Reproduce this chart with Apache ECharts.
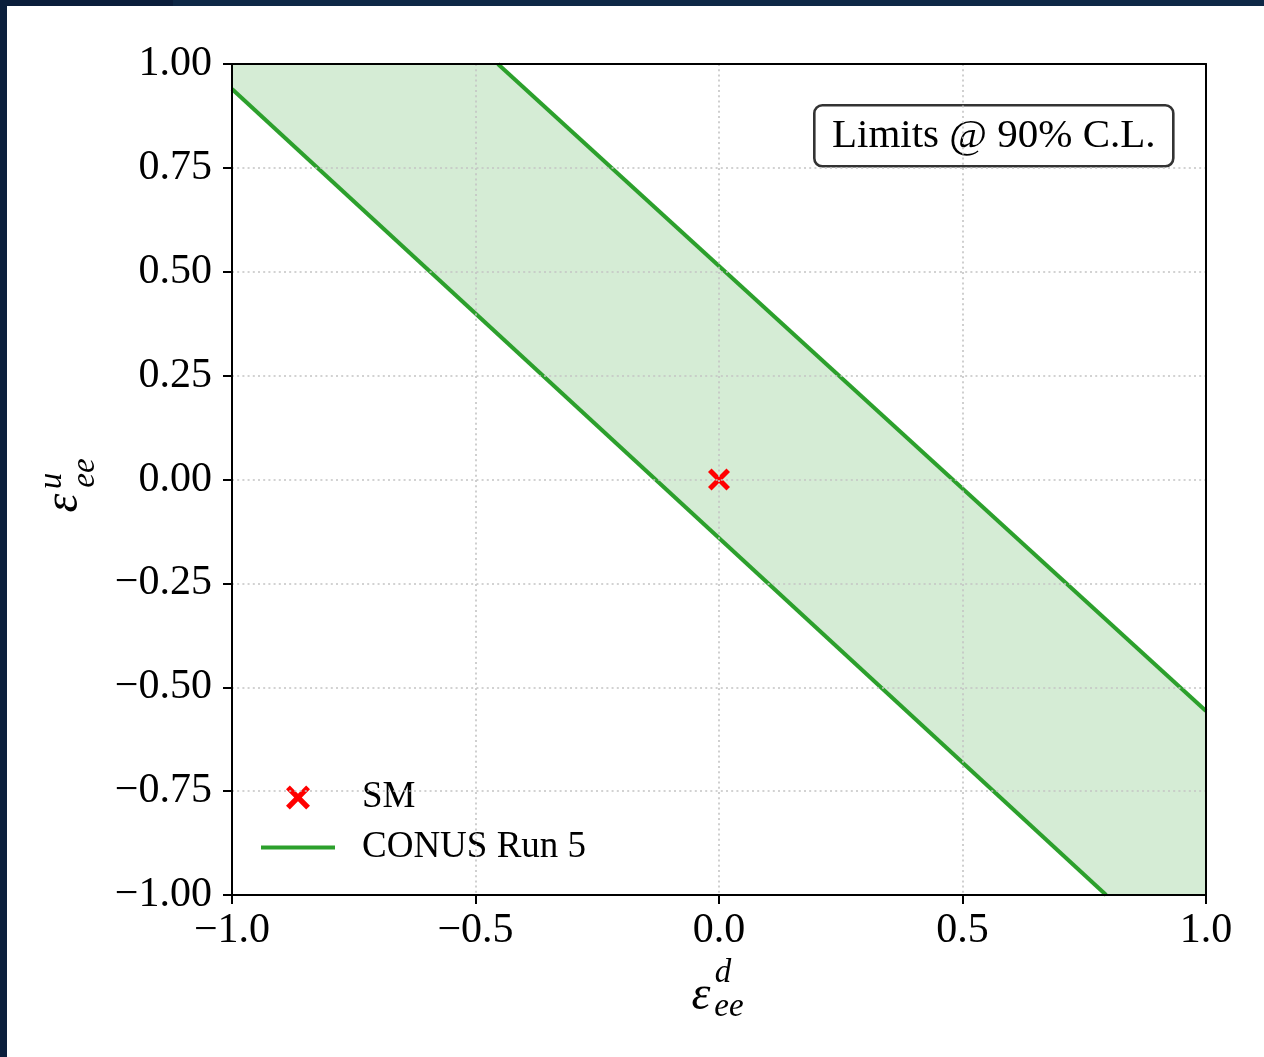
<!DOCTYPE html>
<html>
<head>
<meta charset="utf-8">
<script src="https://cdn.jsdelivr.net/npm/echarts@6/dist/echarts.min.js"></script>
<style>
  html, body { margin: 0; padding: 0; width: 1264px; height: 1057px; overflow: hidden; background: #0e2846; }
  #topdark { position: absolute; left: 0; top: 0; width: 173px; height: 6px; background: #0b1e3b; }
  #leftdark { position: absolute; left: 0; top: 0; width: 7px; height: 1057px; background: #0b1f3c; }
  #chart { position: absolute; left: 7px; top: 6px; width: 1257px; height: 1051px; background: #ffffff; }
</style>
</head>
<body>
<div id="topdark"></div>
<div id="leftdark"></div>
<div id="chart"></div>
<script>
// ---- data ----
const xTickLabels = ['\u22121.0', '\u22120.5', '0.0', '0.5', '1.0'];
const yTickLabels = ['\u22121.00', '\u22120.75', '\u22120.50', '\u22120.25', '0.00', '0.25', '0.50', '0.75', '1.00'];
const lowerBound = [[-1.0, 0.94], [0.795, -1.0]];
const upperBound = [[-0.454, 1.0], [1.0, -0.557]];
const smPoint = [[0, 0]];
const axisMin = -1, axisMax = 1;

// band polygon: upper boundary, corner, lower boundary reversed, corner
const bandPolygon = [].concat(
  upperBound,
  [[axisMax, axisMin]],
  lowerBound.slice().reverse(),
  [[axisMin, axisMax]]
);

const FONT = "'Liberation Serif', 'DejaVu Serif', serif";
const GREEN = '#2ca02c';
const xMarker = 'path://M1.6,0 L5,3.4 L8.4,0 L10,1.6 L6.6,5 L10,8.4 L8.4,10 L5,6.6 L1.6,10 L0,8.4 L3.4,5 L0,1.6 Z';
const lineIcon = 'path://M0,0 L74,0 L74,4 L0,4 Z';

const chart = echarts.init(document.getElementById('chart'), null, { renderer: 'canvas' });

const gridLeft = 225, gridTop = 58, gridRight = 58, gridBottom = 162;

const axisCommon = {
  type: 'value', min: axisMin, max: axisMax, z: 10,
  axisLine: { show: true, onZero: false, lineStyle: { color: '#000', width: 2 } },
  axisTick: { show: true, inside: false, length: 9, lineStyle: { color: '#000', width: 2 } },
  splitLine: { show: true, lineStyle: { color: '#c4c4c4', width: 1.6, type: [2, 3.2] } }
};

const mathText = (x, y, t, size) => ({
  type: 'text', x: x, y: y,
  style: { text: t, fontFamily: FONT, fontStyle: 'italic', fontSize: size, fill: '#000',
    textAlign: 'center', textVerticalAlign: 'middle' }
});

const option = {
  backgroundColor: '#ffffff',
  animation: false,
  grid: { left: gridLeft, top: gridTop, right: gridRight, bottom: gridBottom, containLabel: false },
  xAxis: [
    Object.assign({}, axisCommon, {
      position: 'bottom', interval: 0.5,
      axisLabel: { margin: 15, color: '#000', fontFamily: FONT, fontSize: 42,
        formatter: (v, i) => xTickLabels[i] }
    }),
    Object.assign({}, axisCommon, {
      position: 'top', interval: 0.5,
      axisTick: { show: false }, axisLabel: { show: false }, splitLine: { show: false }
    })
  ],
  yAxis: [
    Object.assign({}, axisCommon, {
      position: 'left', interval: 0.25,
      axisLabel: { margin: 20, color: '#000', fontFamily: FONT, fontSize: 42,
        formatter: (v, i) => yTickLabels[i] }
    }),
    Object.assign({}, axisCommon, {
      position: 'right', interval: 0.25,
      axisTick: { show: false }, axisLabel: { show: false }, splitLine: { show: false }
    })
  ],
  legend: {
    orient: 'vertical', left: 249, top: 768,
    itemWidth: 74, itemHeight: 24, itemGap: 13,
    symbolKeepAspect: true,
    textStyle: { fontFamily: FONT, fontSize: 37, color: '#000', padding: [0, 0, 0, 22], lineHeight: 36 },
    data: [
      { name: 'SM', icon: xMarker, itemStyle: { color: '#ff0000', opacity: 1 } },
      { name: 'CONUS Run 5', icon: lineIcon, itemStyle: { color: GREEN } }
    ]
  },
  series: [
    {
      type: 'custom', name: 'band', z: 1, clip: true, silent: true,
      data: [0],
      renderItem: (params, api) => {
        const pts = bandPolygon.map(p => api.coord(p));
        return { type: 'polygon', shape: { points: pts },
          style: { fill: 'rgba(44,160,44,0.2)', stroke: null } };
      }
    },
    {
      type: 'line', name: 'CONUS Run 5', data: lowerBound, symbol: 'none', showSymbol: false, z: 3,
      lineStyle: { color: GREEN, width: 4 }, itemStyle: { color: GREEN }
    },
    {
      type: 'line', name: 'CONUS Run 5', data: upperBound, symbol: 'none', showSymbol: false, z: 3,
      lineStyle: { color: GREEN, width: 4 }, itemStyle: { color: GREEN }
    },
    {
      type: 'scatter', name: 'SM', data: smPoint, symbol: xMarker, symbolSize: 22, z: 5,
      itemStyle: { color: '#ff0000', opacity: 1 }
    }
  ],
  graphic: [
    {
      type: 'group', left: 806, top: 98,
      children: [
        { type: 'rect', shape: { x: 0, y: 0, width: 359, height: 61, r: 8 },
          style: { fill: '#ffffff', stroke: '#333333', lineWidth: 2.6 } },
        { type: 'text', x: 179.5, y: 31,
          style: { text: 'Limits @ 90% C.L.', fontFamily: FONT, fontSize: 41, fill: '#000',
            textAlign: 'center', textVerticalAlign: 'middle' } }
      ]
    },
    // x axis label: epsilon^d_ee
    {
      type: 'group', x: 711, y: 991,
      children: [
        mathText(-17, -1, '\u03b5', 48),
        mathText(5, -24, 'd', 33),
        mathText(11, 10, 'ee', 33)
      ]
    },
    // y axis label: epsilon^u_ee (rotated)
    {
      type: 'group', x: 60, y: 483, rotation: Math.PI / 2,
      children: [
        mathText(-14, -3, '\u03b5', 48),
        mathText(8, -15, 'u', 33),
        mathText(16, 18, 'ee', 33)
      ]
    }
  ]
};
chart.setOption(option);
</script>
</body>
</html>
